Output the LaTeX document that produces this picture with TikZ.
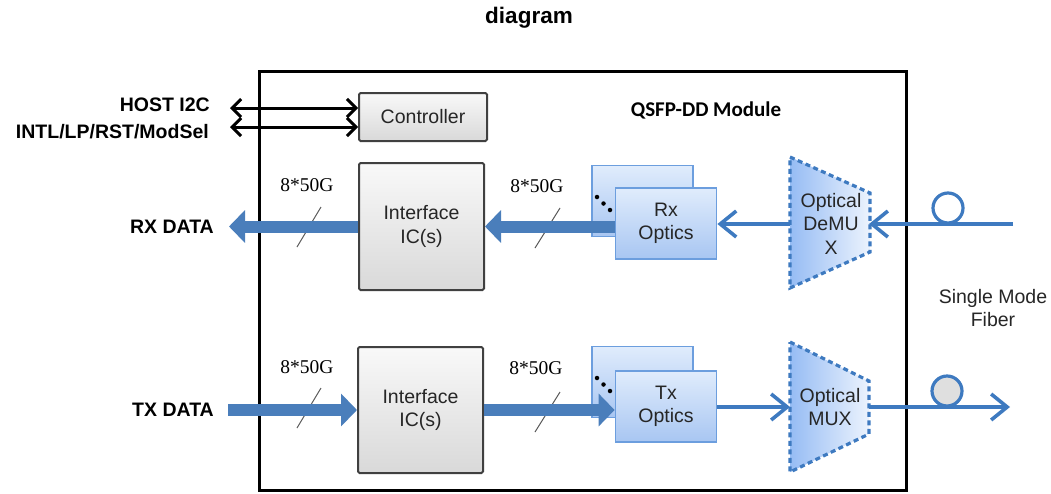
\documentclass[tikz,border=0pt]{standalone}
\usepackage{fontspec}
\setmainfont{Liberation Sans}
\newfontfamily\calfont{Carlito}
\newfontfamily\tmsfont{Liberation Serif}
\usetikzlibrary{arrows.meta}
\definecolor{arrowblue}{RGB}{74,126,187}
\definecolor{lineblue}{RGB}{62,122,192}
\definecolor{optictop}{RGB}{224,236,252}
\definecolor{opticbot}{RGB}{168,198,242}
\definecolor{opticedge}{RGB}{108,158,222}
\definecolor{muxleft}{RGB}{150,188,244}
\definecolor{muxright}{RGB}{236,243,253}
\definecolor{boxedge}{RGB}{64,64,64}
\definecolor{txtgray}{RGB}{38,38,38}

\begin{document}
\begin{tikzpicture}[x=1pt,y=-1pt,
  every node/.style={inner sep=0pt},
  lbl/.style={font=\fontsize{19.5}{23.5}\selectfont\bfseries,anchor=east},
  boxtxt/.style={font=\fontsize{19.5}{23.5}\selectfont,text=txtgray,align=center},
  graybox/.style={boxtxt,draw=boxedge,line width=2pt,rounded corners=1.5pt,
    top color=gray!5,bottom color=gray!30},
  opticbox/.style={boxtxt,draw=opticedge,line width=1.8pt,top color=optictop,
    bottom color=opticbot,minimum width=101pt,minimum height=71pt},
  muxshape/.style={draw=lineblue,line width=3.2pt,dash pattern=on 5pt off 3.5pt,
    left color=muxleft,right color=muxright},
  rate/.style={font=\tmsfont\fontsize{19.5}{23.5}\selectfont},
  slash/.style={draw=gray!70!black,line width=1pt},
  dotmark/.style={circle,fill=black,minimum size=4.5pt},
  bigarrow/.style={draw=arrowblue,line width=12pt,-{Triangle[length=16pt,width=32pt]}},
  smallarrow/.style={draw=lineblue,line width=3.6pt,-{Straight Barb[length=16pt,width=26pt]}},
  ctrlarrow/.style={draw=black,line width=3pt,
    {Straight Barb[length=9pt,width=18pt]}-{Straight Barb[length=9pt,width=18pt]}},
  fiberloop/.style={circle,draw=lineblue,line width=3.2pt,minimum size=30pt}]
  \useasboundingbox (0,0) rectangle (1051,493);
  % nodes
  \node [font=\fontsize{22.5}{26}\selectfont\bfseries] (0) at (529,18) {diagram};
  \node [draw,line width=3pt,minimum width=647pt,minimum height=419pt] (1) at (582.5,280.5) {};
  \node [font=\calfont\fontsize{21}{25}\selectfont\bfseries] (2) at (706,110) {QSFP-DD Module};
  \node [lbl] (3) at (210,105) {HOST I2C};
  \node [lbl] (4) at (209,132) {INTL/LP/RST/ModSel};
  \node [lbl] (5) at (214,227) {RX DATA};
  \node [lbl] (6) at (214,410) {TX DATA};
  \node [graybox,minimum width=128pt,minimum height=48pt] (7) at (423,117) {Controller};
  \node [graybox,minimum width=125pt,minimum height=127pt] (8) at (421.5,226.5) {Interface\\IC(s)};
  \node [graybox,minimum width=125pt,minimum height=126pt] (9) at (420.5,410) {Interface\\IC(s)};
  %% rx optics
  \node [opticbox] (10) at (642.5,201) {};
  \node [dotmark] (10a) at (597,197) {};
  \node [dotmark] (10b) at (603.5,203.5) {};
  \node [dotmark] (10c) at (610,210) {};
  \node [opticbox] (11) at (666,223.5) {Rx\\Optics};
  %% tx optics
  \node [opticbox] (12) at (642.5,382) {};
  \node [dotmark] (12a) at (597,378) {};
  \node [dotmark] (12b) at (603.5,384.5) {};
  \node [dotmark] (12c) at (610,391) {};
  \node [opticbox] (13) at (666,406.5) {Tx\\Optics};
  %% muxes
  \draw [muxshape] (790,157) -- (870,193) -- (870,252) -- (790,288) -- cycle;
  \draw [muxshape] (790,342) -- (869,381) -- (869,434) -- (790,472) -- cycle;
  \node [boxtxt] (14) at (831,223.5) {Optical\\DeMU\\X};
  \node [boxtxt] (15) at (830,407) {Optical\\MUX};
  \node [boxtxt] (22) at (993,308) {Single Mode\\Fiber};
  %% free ends
  \coordinate (16) at (790,224);
  \coordinate (17) at (869,224);
  \coordinate (18) at (790,407);
  \coordinate (19) at (869,407);
  \coordinate (20) at (1013,224);
  \coordinate (21) at (1010,407);
  \coordinate (27) at (230,108);
  \coordinate (28) at (230,127);
  \coordinate (29) at (229,226.5);
  \coordinate (30) at (228,410);
  % rates
  \node [rate] (23) at (307,185) {8*50G};
  \node [rate] (24) at (537,186) {8*50G};
  \node [rate] (25) at (307,367) {8*50G};
  \node [rate] (26) at (536,368) {8*50G};
  \draw [slash] (321,207) -- (297,247);
  \draw [slash] (560,208) -- (535,248);
  \draw [slash] (321,388) -- (297,428);
  \draw [slash] (560,392) -- (535,432);
  % edges
  \draw [ctrlarrow] (27) -- (27 -| 7.west);
  \draw [ctrlarrow] (28) -- (28 -| 7.west);
  \draw [bigarrow] (8.west) -- (29);
  \draw [bigarrow] (30) -- (9.west);
  \draw [bigarrow] (8.east -| 11.west) -- (8.east);
  \draw [bigarrow] (9.east) -- (9.east -| 13.west);
  \draw [smallarrow] (16) -- (16 -| 11.east);
  \draw [smallarrow] (13.east |- 18) -- (18);
  \draw [smallarrow] (20) -- (17);
  \draw [smallarrow] (19) -- (21);
  \node [fiberloop,fill=white] (31) at (948,208) {};
  \node [fiberloop,fill=gray!25] (32) at (947,391) {};
\end{tikzpicture}
\end{document}
